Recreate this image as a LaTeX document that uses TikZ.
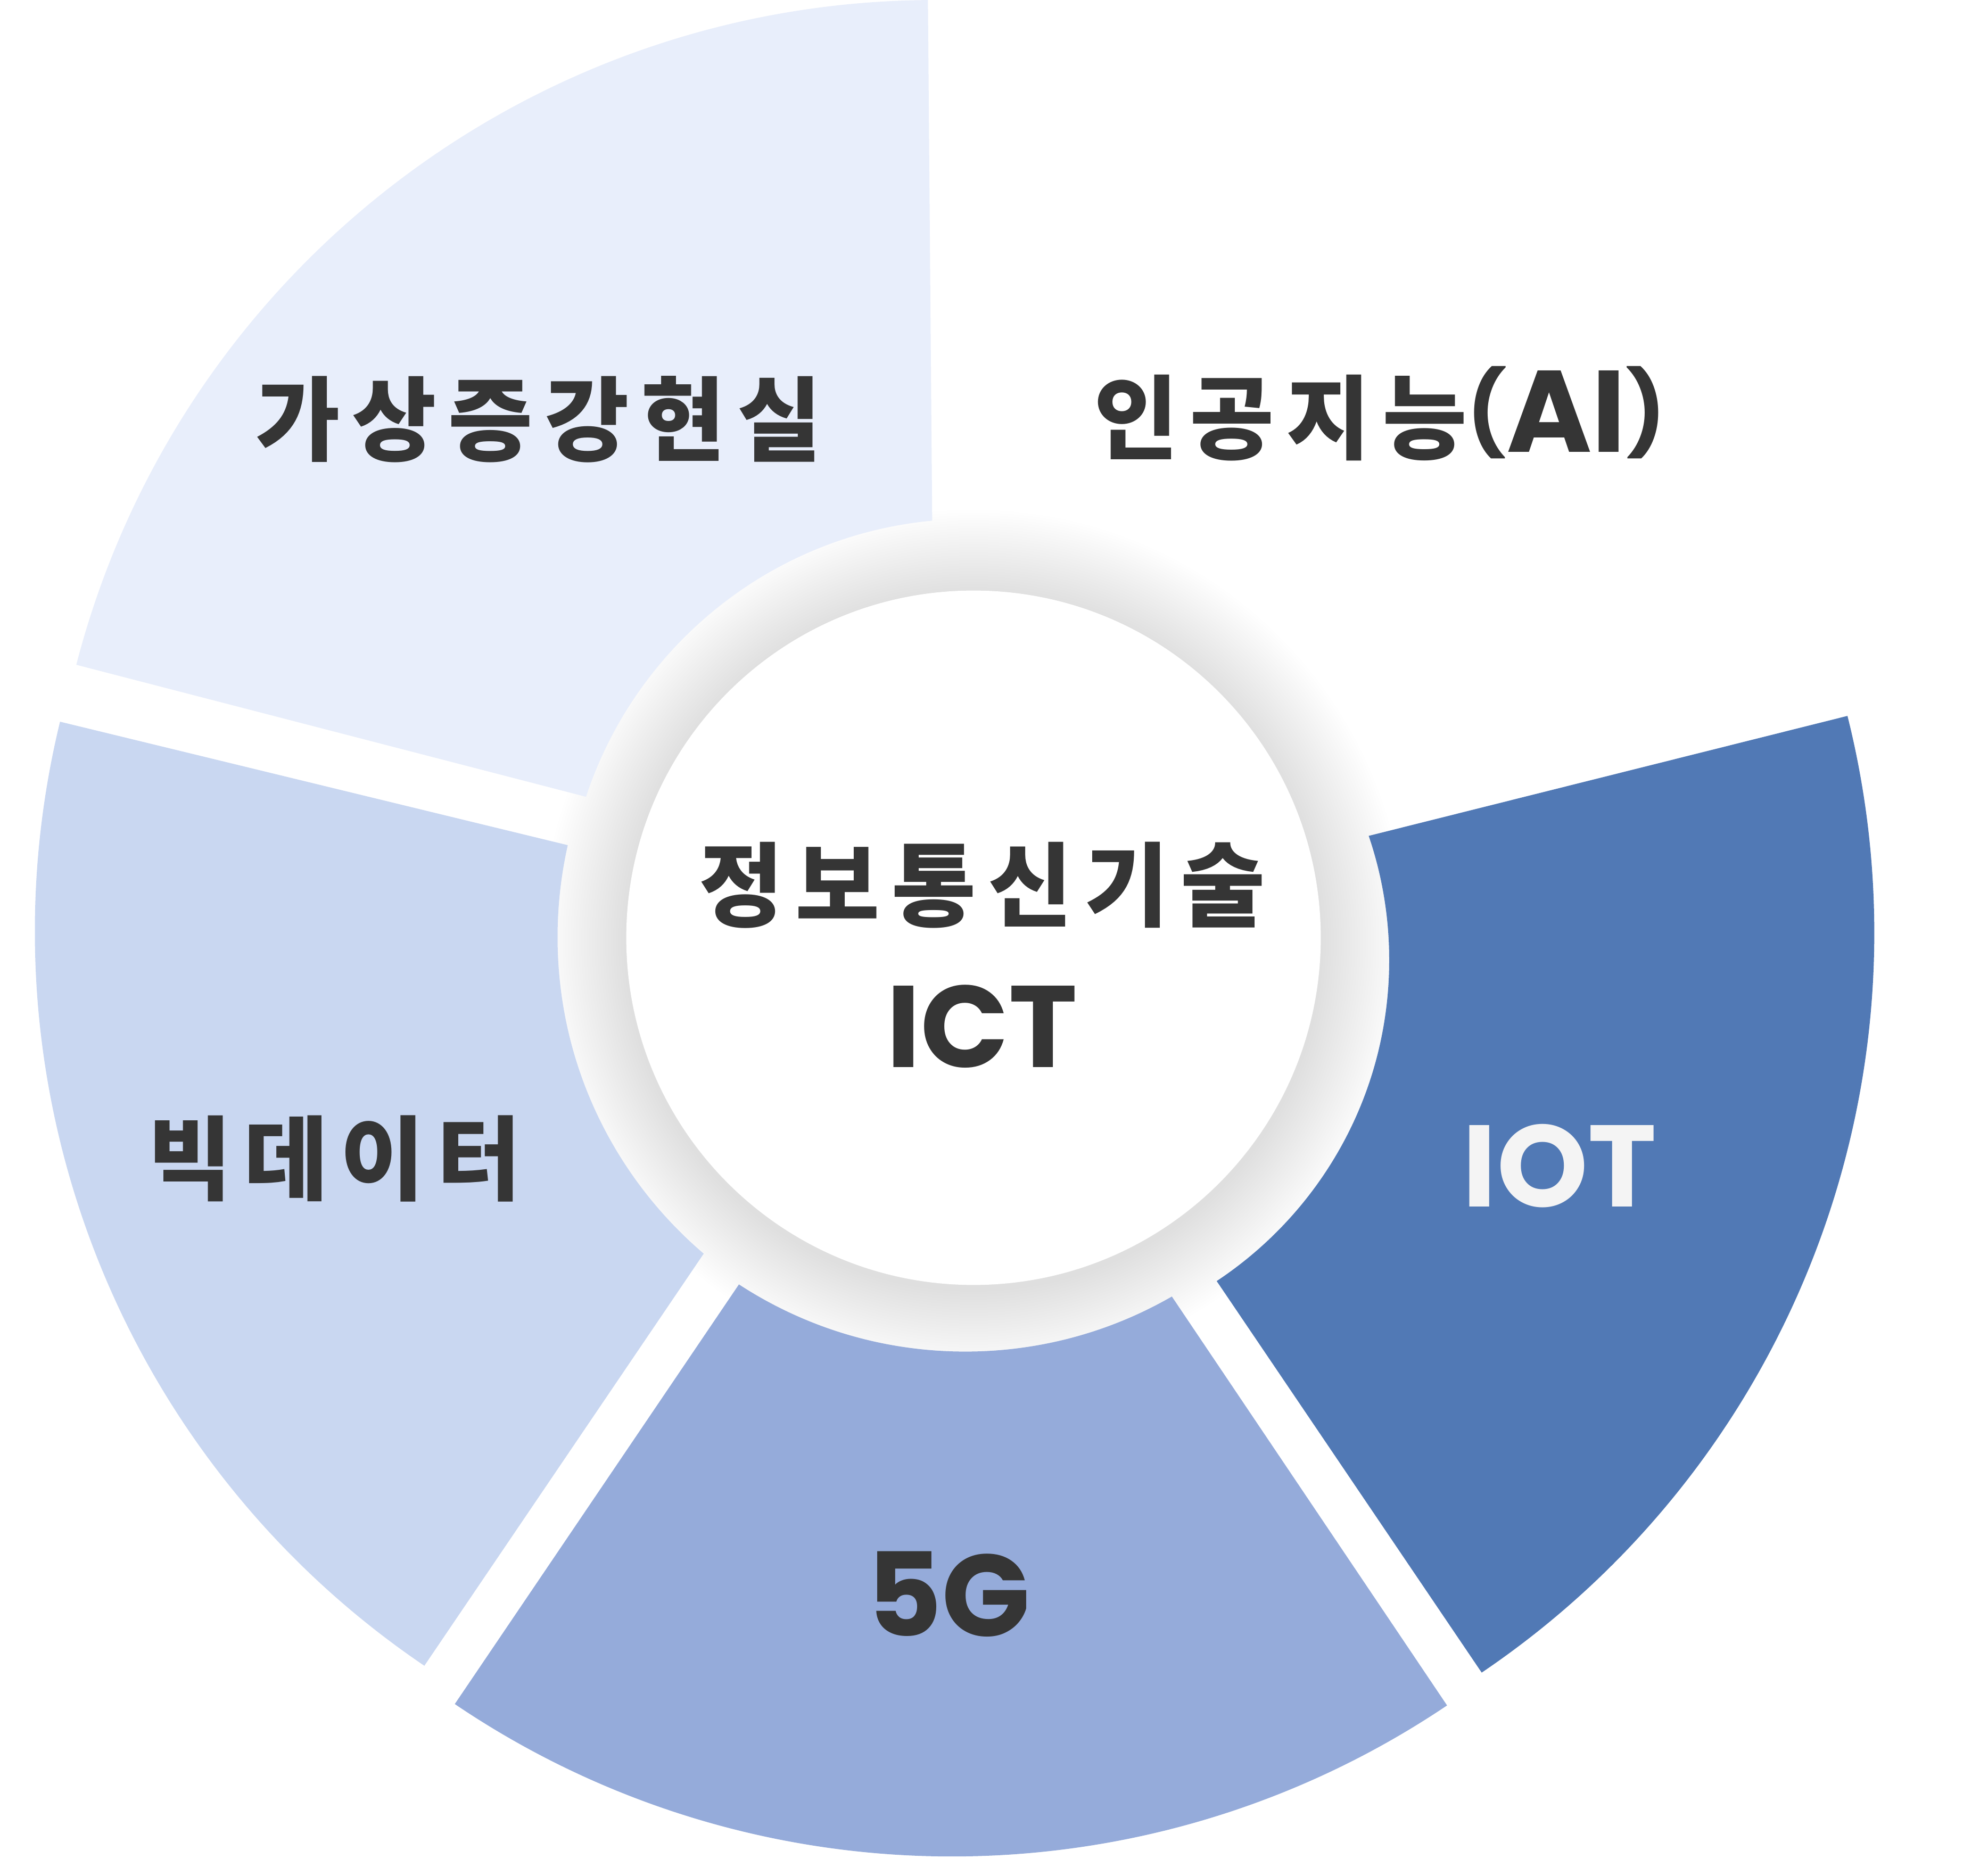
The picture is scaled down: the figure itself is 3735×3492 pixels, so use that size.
\documentclass[tikz,border=0pt]{standalone}
\usepackage{fontspec}
\newfontfamily\krfont{Noto Sans CJK KR}[LetterSpace=13]
\newfontfamily\popfont{Poppins}
\definecolor{segvr}{RGB}{232,238,251}
\definecolor{segbig}{RGB}{201,215,241}
\definecolor{seg5g}{RGB}{149,171,218}
\definecolor{segiot}{RGB}{81,121,181}
\definecolor{ink}{RGB}{53,53,53}
\definecolor{iotink}{RGB}{244,244,244}
\begin{document}
\begin{tikzpicture}[x=0.01cm,y=0.01cm,
  krlabel/.style={inner sep=0pt, text=ink, font=\krfont\bfseries\fontsize{49}{54}\selectfont},
  latlabel/.style={inner sep=0pt, text=ink, font=\popfont\bfseries\fontsize{62}{66}\selectfont},
  hubdisk/.style={circle, fill=white, inner sep=0pt, minimum size=13.04cm}]
\useasboundingbox (0,0) rectangle (3735,3492);
\fill[white] (0,0) rectangle (3735,3492);

% soft halo around the hub
\foreach \k in {1,...,32}
  \fill[black, fill opacity=0.0023] (1829,1722) circle ({652+5*\k});

% sector apexes
\coordinate (apexvr)  at (1757,1825);
\coordinate (apexbig) at (1732.5,1742);
\coordinate (apex5g)  at (1788.5,1669.7);
\coordinate (apexiot) at (1843.3,1738.9);

% each ring piece: a sector with the middle cut out
% #1 colour, #2 apex, #3 start angle, #4 end angle, #5 outer radius, #6 hole centre, #7 hole radius
\newcommand{\ringpiece}[7]{%
  \begin{scope}
    \clip (#2) -- ++(#3:#5) arc[start angle=#3, end angle=#4, radius=#5] -- cycle;
    \fill[#1, even odd rule] (0,0) rectangle (3735,3492) (#6) circle (#7);
  \end{scope}}

\ringpiece{segvr}{apexvr}{90.47}{165.48}{1667}{1823,1757}{760}
\ringpiece{segbig}{apexbig}{166.33}{235.87}{1667}{1828.5,1731}{781}
\ringpiece{seg5g}{apex5g}{235.90}{303.94}{1666}{1813.5,1731.4}{779}
\ringpiece{segiot}{apexiot}{304.09}{374.07}{1678}{1887,1688}{723}

% hub
\node[hubdisk] (hub) at (1829,1730) {};

% labels
\newcommand{\paren}[1]{\raisebox{0.2cm}{\fontsize{44}{48}\selectfont #1}}
\node[krlabel] (vrar) at (1012,2704) {가상증강현실};
\node[krlabel] (ai) at (2592,2715) {인공지능{\popfont\fontsize{62}{66}\selectfont\paren{(}AI\paren{)}}};
\node[krlabel] (bigdata) at (628,1315) {빅데이터};
\node[krlabel] (ictko) at (1845,1829) {정보통신기술};
\node[latlabel] (icten) at (1845,1563) {ICT};
\node[latlabel, text=iotink] (iot) at (2930,1301) {IOT};
\node[latlabel] (fiveg) at (1782,497) {5G};
\end{tikzpicture}
\end{document}
